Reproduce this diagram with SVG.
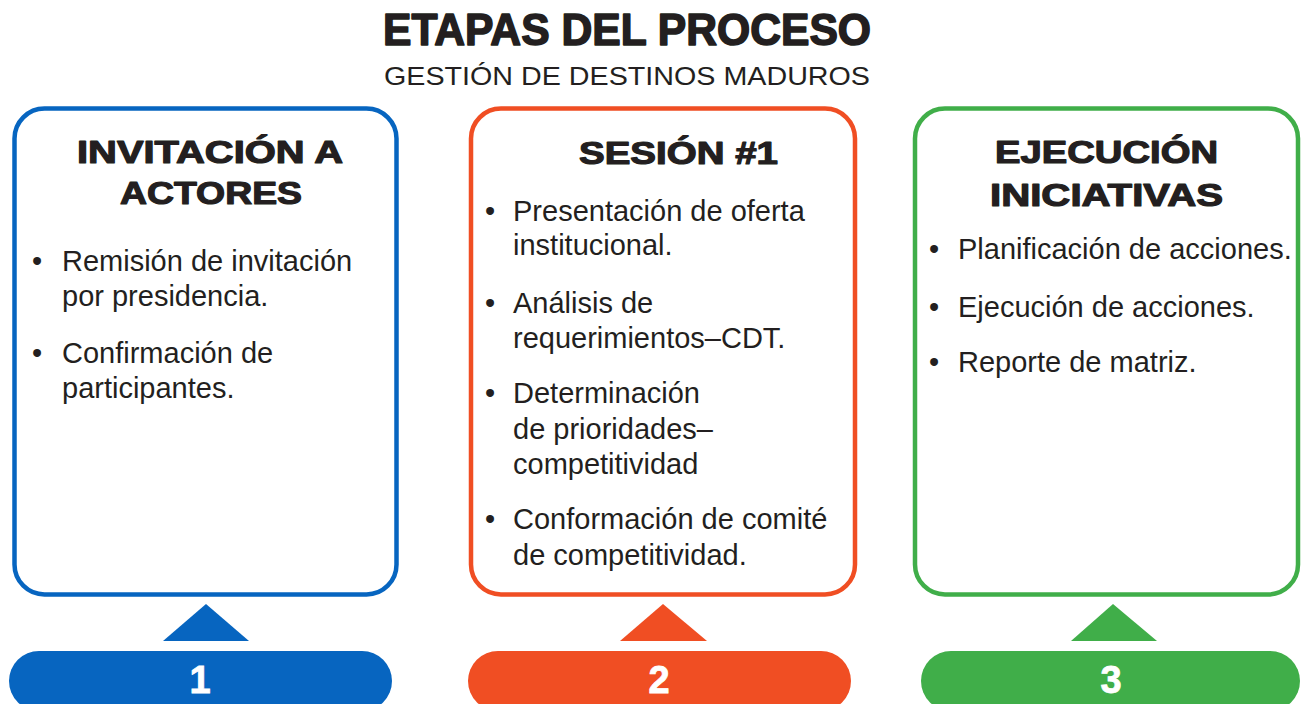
<svg xmlns="http://www.w3.org/2000/svg" width="1301" height="704" viewBox="0 0 1301 704">
<style>
.title{font-family:"Liberation Sans",Arial,sans-serif;font-weight:bold;fill:#231F20;stroke:#231F20;stroke-width:1.6;stroke-linejoin:round}
.sub{font-family:"Liberation Sans",Arial,sans-serif;font-size:26px;fill:#231F20}
.head{font-family:"Liberation Sans",Arial,sans-serif;font-weight:bold;font-size:32px;fill:#231F20;stroke:#231F20;stroke-width:1.2;stroke-linejoin:round}
.body{font-family:"Liberation Sans",Arial,sans-serif;font-size:29px;fill:#231F20}
.box{fill:#FFFFFF;stroke-width:4.5}
.num{font-family:"Liberation Sans",Arial,sans-serif;font-weight:bold;font-size:38px;fill:#FFFFFF;text-anchor:middle;stroke:#FFFFFF;stroke-width:0.8}
.blue{stroke:#0765C0}.orange{stroke:#F04E23}.green{stroke:#40AE49}
</style>
<rect width="1301" height="704" fill="#FFFFFF"/>
<g id="header">
<text class="title" x="383" y="45" font-size="45" textLength="488" lengthAdjust="spacingAndGlyphs">ETAPAS DEL PROCESO</text>
<text class="sub" x="384" y="85" textLength="486" lengthAdjust="spacingAndGlyphs">GESTIÓN DE DESTINOS MADUROS</text>
</g>
<g id="stage1">
<rect class="box blue" x="14.5" y="108.5" width="382" height="486" rx="30"/>
<text class="head" x="77" y="163" textLength="266" lengthAdjust="spacingAndGlyphs">INVITACIÓN A</text>
<text class="head" x="120" y="204" textLength="182" lengthAdjust="spacingAndGlyphs">ACTORES</text>
<text class="body" x="32" y="271">•</text>
<text class="body" x="62" y="271">Remisión de invitación</text>
<text class="body" x="62" y="306">por presidencia.</text>
<text class="body" x="32" y="363">•</text>
<text class="body" x="62" y="363">Confirmación de</text>
<text class="body" x="62" y="398">participantes.</text>
</g>
<g id="stage2">
<rect class="box orange" x="471" y="108.5" width="384" height="486" rx="30"/>
<text class="head" x="579" y="164" textLength="199" lengthAdjust="spacingAndGlyphs">SESIÓN #1</text>
<text class="body" x="485" y="221">•</text>
<text class="body" x="513" y="221">Presentación de oferta</text>
<text class="body" x="513" y="255">institucional.</text>
<text class="body" x="485" y="313">•</text>
<text class="body" x="513" y="313">Análisis de</text>
<text class="body" x="513" y="348">requerimientos–CDT.</text>
<text class="body" x="485" y="403">•</text>
<text class="body" x="513" y="403">Determinación</text>
<text class="body" x="513" y="439">de prioridades–</text>
<text class="body" x="513" y="474">competitividad</text>
<text class="body" x="485" y="529">•</text>
<text class="body" x="513" y="529">Conformación de comité</text>
<text class="body" x="513" y="565">de competitividad.</text>
</g>
<g id="stage3">
<rect class="box green" x="915" y="108.5" width="383" height="486" rx="30"/>
<text class="head" x="995" y="163" textLength="223" lengthAdjust="spacingAndGlyphs">EJECUCIÓN</text>
<text class="head" x="990" y="206" textLength="233" lengthAdjust="spacingAndGlyphs">INICIATIVAS</text>
<text class="body" x="929" y="259">•</text>
<text class="body" x="958" y="259">Planificación de acciones.</text>
<text class="body" x="929" y="317">•</text>
<text class="body" x="958" y="317">Ejecución de acciones.</text>
<text class="body" x="929" y="372">•</text>
<text class="body" x="958" y="372">Reporte de matriz.</text>
</g>
<g id="step1">
<rect x="9" y="651" width="383" height="60" rx="30" fill="#0765C0"/>
<text class="num" x="200" y="693">1</text>
</g>
<g id="step2">
<rect x="468" y="651" width="383" height="60" rx="30" fill="#F04E23"/>
<text class="num" x="659" y="693">2</text>
</g>
<g id="step3">
<rect x="921" y="651" width="379" height="60" rx="30" fill="#40AE49"/>
<text class="num" x="1111" y="693">3</text>
</g>
<g id="connectors">
<polygon points="163,641 206,604 249,641" fill="#0765C0"/>
<polygon points="620,641 663,604 707,641" fill="#F04E23"/>
<polygon points="1071,641 1113,604 1157,641" fill="#40AE49"/>
</g>
</svg>
